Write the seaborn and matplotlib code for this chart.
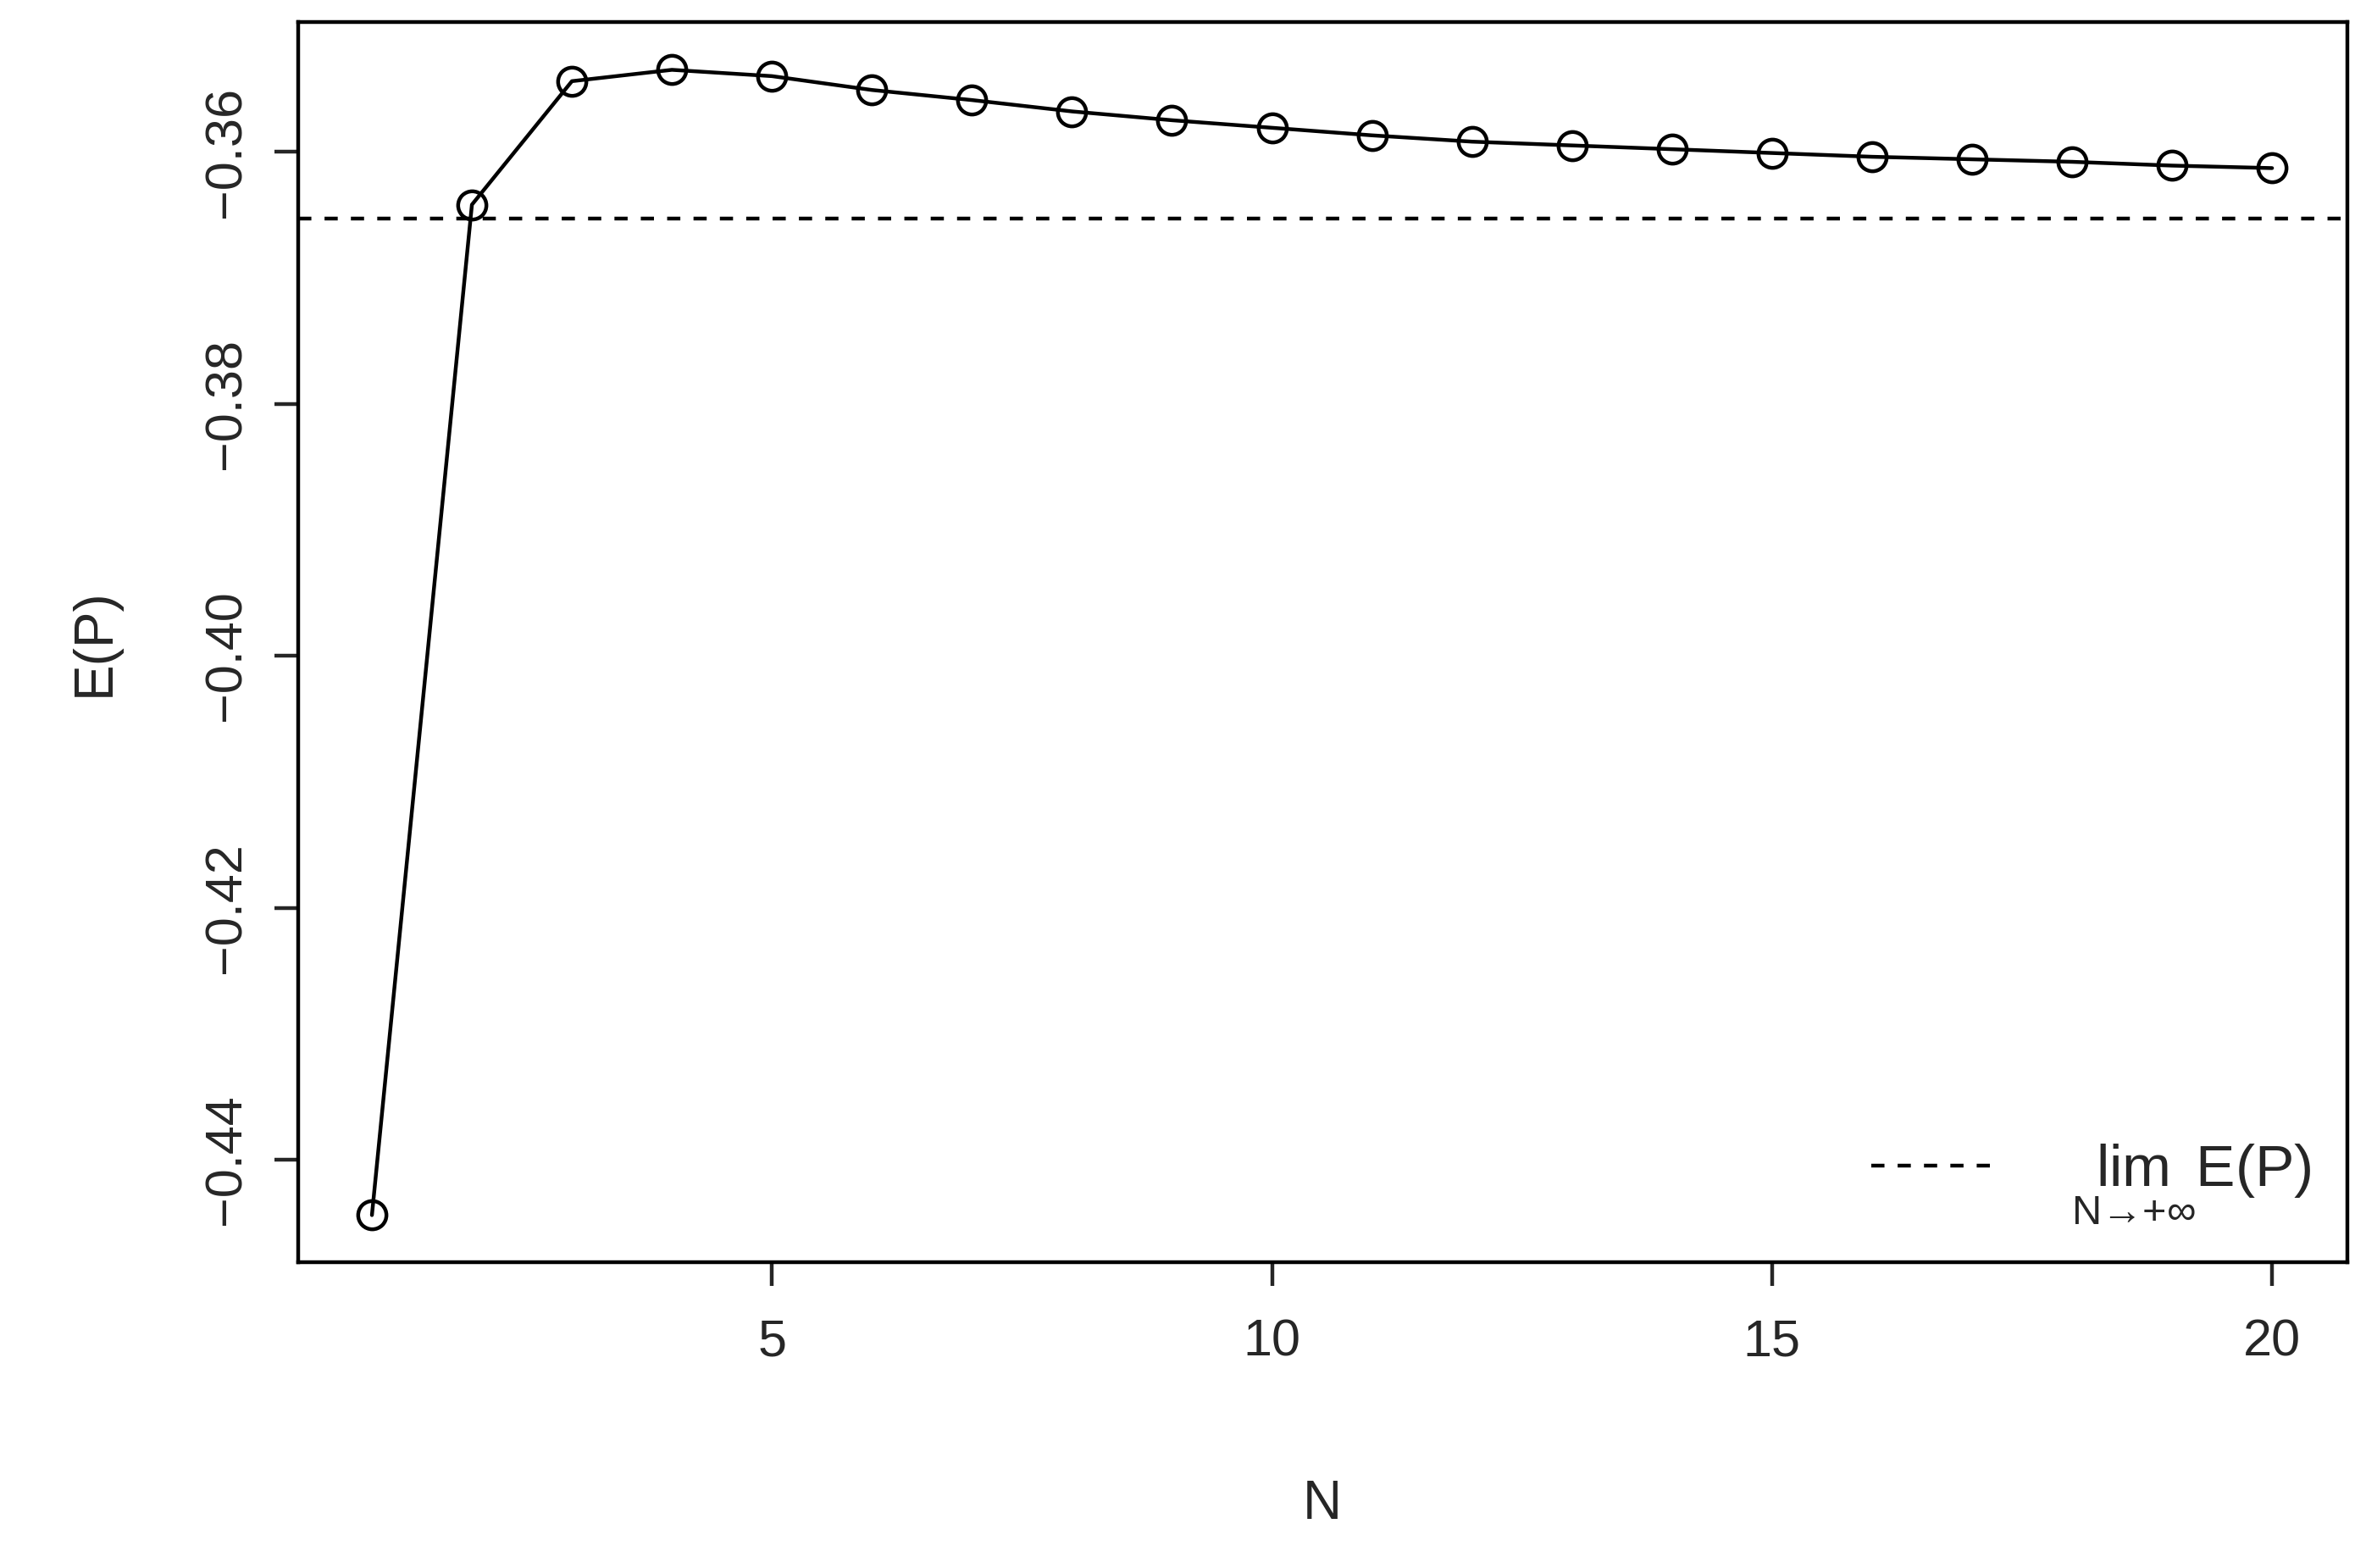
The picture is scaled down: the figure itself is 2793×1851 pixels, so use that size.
import numpy as np
import pandas as pd
import matplotlib
matplotlib.use("Agg")
import matplotlib.pyplot as plt
import seaborn as sns

sns.set_style("ticks")
plt.rcParams["font.family"] = ["Liberation Sans", "DejaVu Sans"]
plt.rcParams["mathtext.fontset"] = "custom"
plt.rcParams["mathtext.rm"] = "Liberation Sans"
plt.rcParams["mathtext.it"] = "Liberation Sans"

N = list(range(1, 21))
EP = [-0.4444, -0.3642, -0.3544, -0.3535, -0.3540, -0.3551, -0.3559, -0.3568,
      -0.3575, -0.3581, -0.3587, -0.3592, -0.3595, -0.3598, -0.3601, -0.3604,
      -0.3606, -0.3608, -0.3611, -0.3613]
limit = -0.3653

df = pd.DataFrame({"N": N, "EP": EP})

fig = plt.figure(figsize=(27.93, 18.51), dpi=100)
ax = fig.add_axes([0.126, 0.195, 0.866, 0.791])

sns.lineplot(data=df, x="N", y="EP", ax=ax, color="black", linewidth=3.2,
             marker="o", markersize=24, markerfacecolor="none",
             markeredgecolor="black", markeredgewidth=3.2)
ax.axhline(limit, color="black", linestyle="--", linewidth=3.2, dashes=(3.5, 3.5),
           label=r"$\lim_{N\to+\infty}$E(P)")

ax.set_xlim(0.262, 20.75)
ax.set_ylim(-0.44814, -0.3497)
ax.set_xticks([5, 10, 15, 20])
ax.set_yticks([-0.44, -0.42, -0.40, -0.38, -0.36])
ax.set_yticklabels(["\u22120.44", "\u22120.42", "\u22120.40", "\u22120.38", "\u22120.36"],
                   rotation=90, va="center")
ax.tick_params(axis="both", labelsize=44, length=20, width=3.2, direction="out")
ax.tick_params(axis="x", pad=28)
ax.tick_params(axis="y", pad=20)
for s in ax.spines.values():
    s.set_linewidth(3.2)
    s.set_color("black")

ax.set_xlabel("N", fontsize=46, labelpad=95)
ax.set_ylabel("E(P)", fontsize=46, labelpad=70)

ax.legend(loc="lower right", frameon=False, fontsize=50, handlelength=2.2,
          borderaxespad=0.2, handletextpad=1.2)

fig.savefig("out.png", dpi=100)
